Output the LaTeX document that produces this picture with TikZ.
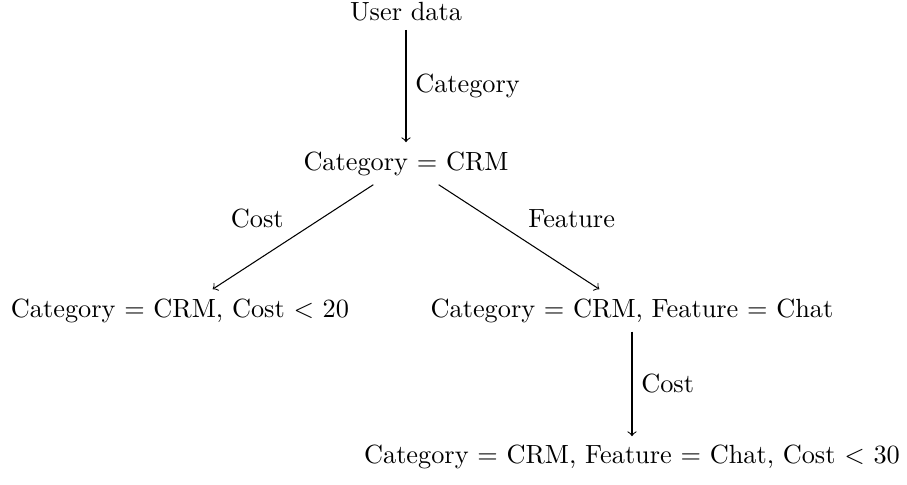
\documentclass[tikz,border=0pt]{standalone}
\begin{document}
\begin{tikzpicture}[x=0.3802pt,y=-0.3802pt,
  state/.style={anchor=base},
  link/.style={->}]
\useasboundingbox (0,0) rectangle (907,485);
\node[state] (ud) at (406,20) {User data};
\node[state] (crm) at (406,170) {Category $=$ CRM};
\node[state] (cost) at (180,317) {Category $=$ CRM, Cost $<$ 20};
\node[state] (feat) at (632,317) {Category $=$ CRM, Feature $=$ Chat};
\node[state] (fc) at (632,464) {Category $=$ CRM, Feature $=$ Chat, Cost $<$ 30};
\draw[link] (ud) -- node[midway,right] {Category} (crm);
\draw[link] (crm) -- node[midway,above left] {Cost} (cost);
\draw[link] (crm) -- node[midway,above right] {Feature} (feat);
\draw[link] (feat) -- node[midway,right] {Cost} (fc);
\end{tikzpicture}
\end{document}
